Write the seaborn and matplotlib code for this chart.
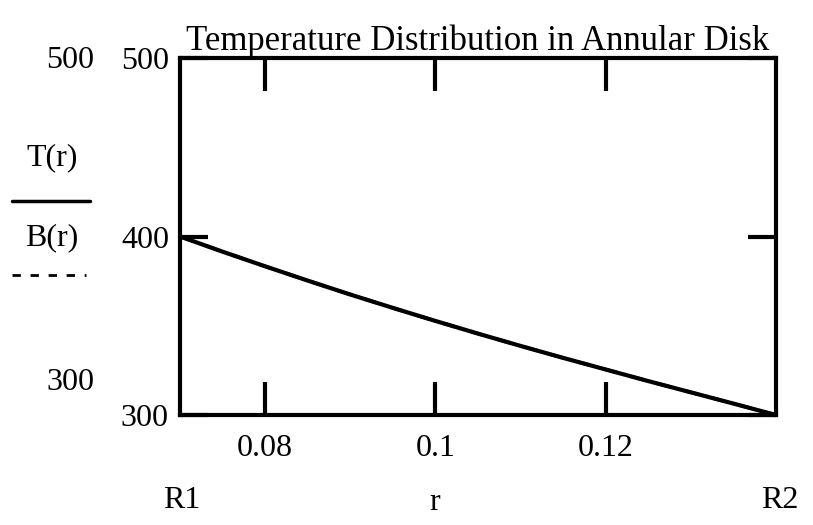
import matplotlib
matplotlib.use("Agg")
import matplotlib.pyplot as plt
import seaborn as sns
import pandas as pd

# radius values (m) and temperatures
r_vals = [0.07, 0.075, 0.08, 0.085, 0.09, 0.095, 0.10, 0.105, 0.11, 0.115,
          0.12, 0.125, 0.13, 0.135, 0.14]
T_vals = [400, 391.5, 383.3, 375.3, 367.5, 360.0, 352.7, 345.6, 338.7, 332.0,
          325.5, 319.0, 312.7, 306.4, 300]
B_vals = [400, 391.5, 383.3, 375.3, 367.5, 360.0, 352.7, 345.6, 338.7, 332.0,
          325.5, 319.0, 312.7, 306.4, 300]
x_ticks = [0.08, 0.1, 0.12]
x_tick_labels = ["0.08", "0.1", "0.12"]
y_ticks = [300, 400, 500]

sns.set_style("white")
plt.rcParams["font.family"] = ["Liberation Serif", "DejaVu Serif"]
plt.rcParams["text.color"] = "black"
plt.rcParams["xtick.color"] = "black"
plt.rcParams["ytick.color"] = "black"

df = pd.DataFrame({"r": r_vals, "T": T_vals, "B": B_vals})

fig = plt.figure(figsize=(8.13, 5.25), dpi=100)
ax = fig.add_axes([0.2214, 0.2095, 0.7331, 0.68])

sns.lineplot(data=df, x="r", y="B", color="black", linestyle=(0, (4, 4)), linewidth=2.5, ax=ax)
sns.lineplot(data=df, x="r", y="T", color="black", linewidth=3, ax=ax)

ax.set_xlim(r_vals[0], r_vals[-1])
ax.set_ylim(300, 500)
ax.set_xticks(x_ticks)
ax.set_xticklabels(x_tick_labels)
ax.set_yticks(y_ticks)
ax.tick_params(axis="both", labelsize=23, direction="in", width=3, color="black",
               labelcolor="black")
ax.tick_params(axis="x", length=24, top=True, bottom=True, pad=14)
ax.tick_params(axis="y", length=20, left=True, right=True, pad=8)
ax.set_xlabel("")
ax.set_ylabel("")
for s in ax.spines.values():
    s.set_linewidth(3)
    s.set_color("black")

ax.set_title("Temperature Distribution in Annular Disk", fontsize=25, pad=6, color="black")

# Mathcad-style axis limit labels and legend
fs = 23
fig.text(70 / 813, 1 - 60 / 525, "500", fontsize=fs, ha="center", va="center")
fig.text(70 / 813, 1 - 383 / 525, "300", fontsize=fs, ha="center", va="center")
fig.text(52 / 813, 1 - 158 / 525, "T(r)", fontsize=fs, ha="center", va="center")
fig.add_artist(plt.Line2D([12 / 813, 90 / 813], [1 - 201 / 525] * 2, color="black", linewidth=2.5))
fig.text(52 / 813, 1 - 238 / 525, "B(r)", fontsize=fs, ha="center", va="center")
fig.add_artist(plt.Line2D([12 / 813, 86 / 813], [1 - 275 / 525] * 2, color="black",
                          linewidth=2, linestyle=(0, (3, 3.5))))
fig.text(182 / 813, 1 - 500 / 525, "R1", fontsize=fs, ha="center", va="center")
fig.text(435 / 813, 1 - 502 / 525, "r", fontsize=fs, ha="center", va="center")
fig.text(780 / 813, 1 - 500 / 525, "R2", fontsize=fs, ha="center", va="center")

fig.savefig("out.png", dpi=100)
